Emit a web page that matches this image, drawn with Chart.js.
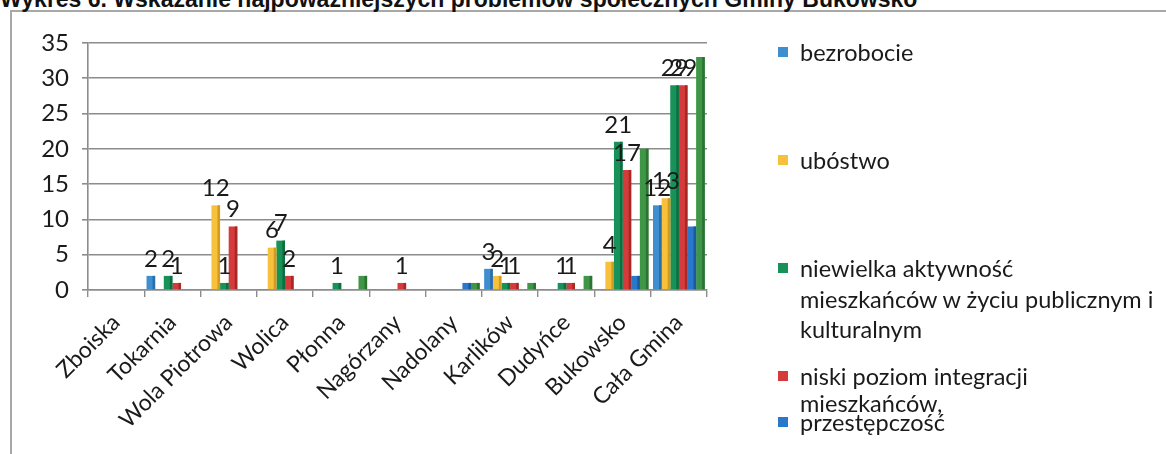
<!DOCTYPE html>
<html>
<head>
<meta charset="utf-8">
<script src="https://cdn.jsdelivr.net/npm/chart.js@4"></script>
<style>
  html, body { margin: 0; padding: 0; background: #fff; }
  #wrap { position: relative; width: 1166px; height: 454px; overflow: hidden; }
  #chart { position: absolute; left: 0; top: 0; }
  #title { position: absolute; left: 0px; top: -14px; font: bold 23px "Liberation Sans", Arial, sans-serif; color: #111; white-space: nowrap; }
  #frame { position: absolute; left: 10px; top: 10px; width: 1200px; height: 500px; border-top: 2px solid #a8a8a8; border-left: 2px solid #a8a8a8; }
  #legend { position: absolute; left: 778px; top: 0; font: 23.5px Lato, "Open Sans", sans-serif; color: #1a1a1a; }
  .item { position: absolute; left: 0; white-space: nowrap; line-height: 30px; }
  .item i { position: absolute; left: 0; top: 10px; width: 10px; height: 10px; }
  .item span { position: absolute; left: 22px; top: 0; }
</style>
</head>
<body>
<div id="wrap">
  <div id="frame"></div>
  <div id="title">Wykres 6. Wskazanie najpoważniejszych problemów społecznych Gminy Bukowsko</div>
  <canvas id="chart" width="1166" height="454"></canvas>
  <div id="legend"></div>
</div>
<script>
const categories = ['Zboiska', 'Tokarnia', 'Wola Piotrowa', 'Wolica', 'Płonna', 'Nagórzany', 'Nadolany', 'Karlików', 'Dudyńce', 'Bukowsko', 'Cała Gmina'];
const bezrobocie    = [0, 2, 0, 0, 0, 0, 0, 3, 0, 0, 12];
const ubostwo       = [0, 0, 12, 6, 0, 0, 0, 2, 0, 4, 13];
const aktywnosc     = [0, 2, 1, 7, 1, 0, 0, 1, 1, 21, 29];
const integracja    = [0, 1, 9, 2, 0, 1, 0, 1, 1, 17, 29];
const przestepczosc = [0, 0, 0, 0, 0, 0, 1, 0, 0, 2, 9];
const inne          = [0, 0, 0, 0, 2, 0, 1, 1, 2, 20, 33];
const yTicks = [0, 5, 10, 15, 20, 25, 30, 35];

const seriesLabels = ['bezrobocie', 'ubóstwo', 'niewielka aktywność mieszkańców w życiu publicznym i kulturalnym', 'niski poziom integracji mieszkańców', 'przestępczość', ''];
const seriesData = [bezrobocie, ubostwo, aktywnosc, integracja, przestepczosc, inne];
const colors = ['#3f8ed0', '#f7c13c', '#179258', '#d63b3b', '#2a78c9', '#3f9646'];
const sideColors = ['#2c6ea6', '#d29a22', '#0f6e40', '#a82828', '#1d5a9c', '#2d7133'];
const labelled = [true, true, true, true, false, false];

// legend rows (text lines + vertical position), cut off at the bottom like the scan
const legendRows = [
  { s: 0, top: 37, lines: ['bezrobocie'] },
  { s: 1, top: 145, lines: ['ubóstwo'] },
  { s: 2, top: 253, lines: ['niewielka aktywność', 'mieszkańców w życiu publicznym i', 'kulturalnym'] },
  { s: 3, top: 361, lines: ['niski poziom integracji', 'mieszkańców,'] },
  { s: 4, top: 407, lines: ['przestępczość'] }
];
const leg = document.getElementById('legend');
legendRows.forEach(r => {
  r.lines.forEach((t, k) => {
    const d = document.createElement('div');
    d.className = 'item';
    d.style.top = (r.top + (r.s === 3 && k === 1 ? 27 : k * 30.5)) + 'px';
    d.innerHTML = (k === 0 ? `<i style="background:${colors[r.s]}"></i>` : '') + `<span>${t}</span>`;
    leg.appendChild(d);
  });
});

// darker right edge, a hint of the 3D bars in the original
const barSides = {
  id: 'barSides',
  afterDatasetsDraw(chart) {
    const ctx = chart.ctx;
    ctx.save();
    chart.data.datasets.forEach((ds, i) => {
      chart.getDatasetMeta(i).data.forEach((bar, j) => {
        if (!ds.data[j]) return;
        const w = bar.width * 0.3;
        ctx.fillStyle = sideColors[i];
        ctx.fillRect(bar.x + bar.width / 2 - w, bar.y, w, bar.base - bar.y);
      });
    });
    ctx.restore();
  }
};

const valueLabels = {
  id: 'valueLabels',
  afterDatasetsDraw(chart) {
    const ctx = chart.ctx;
    ctx.save();
    ctx.font = '24px Lato, "Open Sans", sans-serif';
    ctx.fillStyle = '#1a1a1a';
    ctx.textAlign = 'center';
    ctx.textBaseline = 'bottom';
    chart.data.datasets.forEach((ds, i) => {
      if (!labelled[i]) return;
      chart.getDatasetMeta(i).data.forEach((bar, j) => {
        const v = ds.data[j];
        if (!v) return;
        ctx.fillText(String(v), bar.x, bar.y - 5);
      });
    });
    ctx.restore();
  }
};

new Chart(document.getElementById('chart').getContext('2d'), {
  type: 'bar',
  data: {
    labels: categories,
    datasets: seriesData.map((d, i) => ({
      label: seriesLabels[i], data: d, backgroundColor: colors[i],
      borderWidth: 0, categoryPercentage: 0.92, barPercentage: 1.0
    }))
  },
  options: {
    responsive: false, animation: false,
    layout: { padding: { left: 10, top: 43, right: 459, bottom: 0 } },
    plugins: { legend: { display: false }, tooltip: { enabled: false } },
    scales: {
      y: {
        min: 0, max: 35,
        afterBuildTicks: s => { s.ticks = yTicks.map(v => ({ value: v })); },
        afterFit: s => { s.width = 78; },
        grid: { color: '#8c8c8c', lineWidth: 1.6, drawTicks: true, tickLength: 6 },
        border: { color: '#8c8c8c', width: 1.6 },
        ticks: { color: '#1a1a1a', font: { family: 'Lato, "Open Sans", sans-serif', size: 24 }, padding: 13 }
      },
      x: {
        afterFit: s => { s.height = 164; },
        grid: { offset: true, drawOnChartArea: false, drawTicks: true, tickLength: 7, color: '#8c8c8c', lineWidth: 1.4 },
        border: { color: '#8c8c8c', width: 1.6 },
        ticks: { color: '#1a1a1a', font: { family: 'Lato, "Open Sans", sans-serif', size: 23 }, maxRotation: 45, minRotation: 45, padding: 12 }
      }
    }
  },
  plugins: [barSides, valueLabels]
});
</script>
</body>
</html>
